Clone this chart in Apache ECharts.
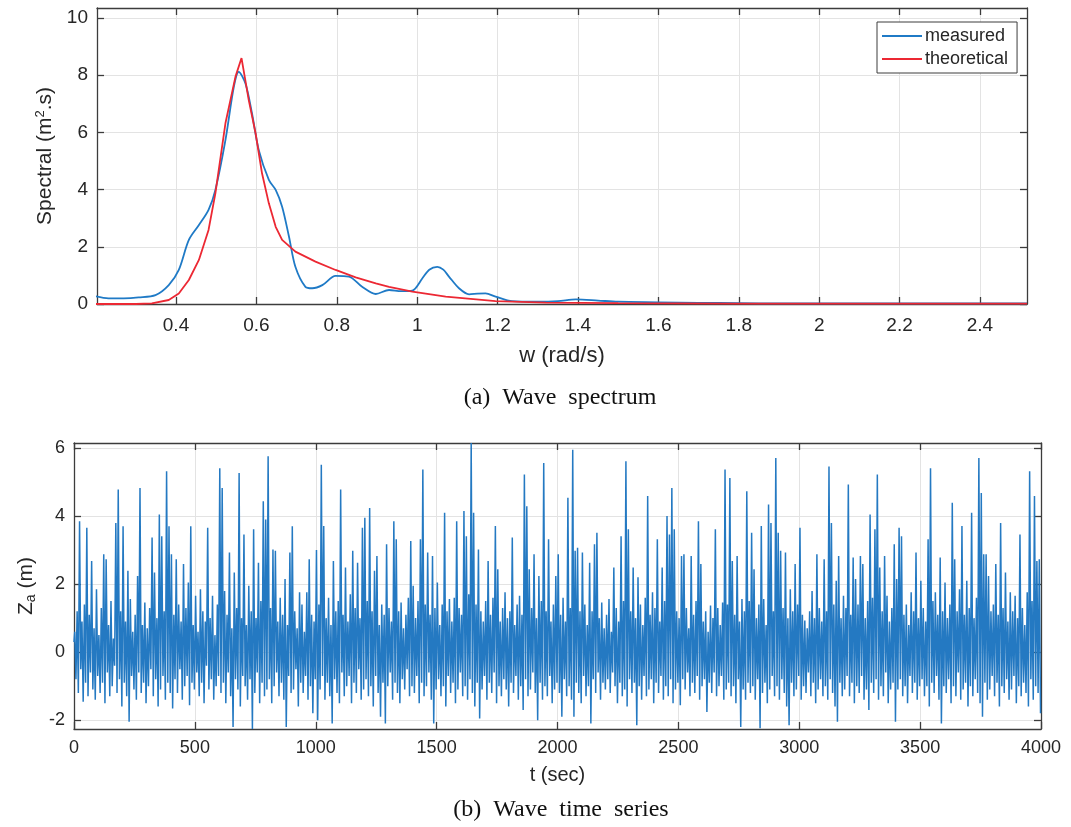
<!DOCTYPE html>
<html><head><meta charset="utf-8">
<script src="https://cdn.jsdelivr.net/npm/echarts@6/dist/echarts.min.js"></script>
<style>html,body{margin:0;padding:0;background:#fff}#c{width:1071px;height:827px}</style>
</head><body><div id="c"></div>
<script>
// ---- (a) Wave spectrum ----
const wMeasured = [0.2,0.232,0.27,0.307,0.349,0.382,0.407,0.432,0.457,0.481,0.498,0.523,0.544,0.556,0.573,0.589,0.606,0.631,0.648,0.664,0.681,0.697,0.722,0.739,0.764,0.797,0.83,0.863,0.897,0.93,0.96,0.988,1.013,1.03,1.05,1.065,1.079,1.104,1.129,1.15,1.17,1.195,1.236,1.3,1.35,1.395,1.45,1.5,1.6,1.7,1.8,1.9,2.0,2.2,2.4,2.517];
const sMeasured = [0.27,0.2,0.2,0.23,0.31,0.66,1.19,2.24,2.76,3.29,3.99,5.73,7.6,8.12,7.7,6.67,5.38,4.34,3.99,3.4,2.36,1.3,0.6,0.55,0.66,0.98,0.96,0.6,0.35,0.49,0.45,0.47,0.9,1.2,1.3,1.2,0.96,0.55,0.34,0.36,0.37,0.26,0.1,0.08,0.1,0.16,0.12,0.08,0.06,0.04,0.03,0.02,0.02,0.02,0.02,0.02];
const wTheory = [0.2,0.3,0.34,0.382,0.407,0.432,0.457,0.481,0.498,0.523,0.548,0.563,0.581,0.598,0.614,0.631,0.648,0.664,0.697,0.747,0.797,0.847,0.897,0.93,0.988,1.071,1.195,1.32,1.5,1.8,2.1,2.517];
const sTheory = [0,0,0.02,0.14,0.37,0.84,1.54,2.59,3.87,6.32,7.95,8.6,7.13,5.97,4.57,3.52,2.7,2.24,1.83,1.48,1.19,0.93,0.72,0.6,0.43,0.26,0.1,0.05,0.03,0.015,0.01,0.01];
const seriesNames = ['measured','theoretical'];

// ---- (b) Wave time series: crest / trough elevations (m), one per 10 s wave slot ----
const slotSec = 10;
const zCrest = [
0.6,1.2,3.85,0.9,1.4,3.66,1.1,2.68,0.7,1.85,
0.5,1.3,2.88,2.73,0.8,1.5,0.4,3.8,4.78,1.2,
3.7,0.9,2.39,1.56,0.6,1.1,2.24,4.83,0.8,1.46,
0.7,1.3,3.37,2.34,1.0,4.05,3.41,1.2,5.32,3.7,
2.88,1.1,2.73,1.4,0.9,2.59,1.3,2.05,3.7,0.8,
1.66,0.6,1.85,1.2,0.9,3.66,1.0,1.66,0.5,1.4,
5.41,4.83,1.8,1.1,2.93,0.7,2.34,1.3,5.27,1.0,
3.46,0.8,1.95,1.2,3.61,1.0,2.63,1.5,4.44,3.9,
5.76,1.3,3.02,2.98,0.9,1.6,1.1,2.15,0.8,2.93,
3.7,1.2,0.7,1.76,1.4,0.6,1.76,2.73,1.1,0.9,
3.0,1.4,5.51,3.71,1.0,1.6,0.8,2.68,1.2,1.5,
4.78,1.1,2.49,0.9,1.7,2.98,1.3,2.63,1.0,3.66,
3.95,1.5,4.24,1.2,2.39,2.83,0.8,1.4,1.1,3.17,
1.3,0.9,3.85,3.32,1.2,1.46,0.7,1.1,1.6,3.27,
1.95,1.0,1.5,3.32,5.37,1.4,2.93,1.1,2.83,1.3,
2.05,0.8,1.4,4.1,1.2,1.56,0.9,1.6,3.85,1.3,
1.1,4.15,3.41,1.7,6.15,4.1,1.4,3.02,1.2,0.9,
1.5,2.68,1.1,1.6,3.71,2.44,0.9,1.3,1.76,1.0,
1.2,3.37,0.8,1.4,1.66,1.1,5.22,4.29,2.44,1.3,
2.88,1.0,2.24,1.5,5.56,1.2,3.32,0.9,1.4,2.24,
2.88,1.1,1.6,0.9,4.54,1.3,5.95,2.98,3.07,1.2,
2.93,1.4,0.8,2.63,1.2,3.17,3.51,1.0,1.46,0.7,
1.1,1.56,0.6,2.49,1.3,0.9,3.41,1.5,5.61,3.61,
1.2,2.49,1.0,2.2,1.4,0.8,1.6,4.59,1.1,1.76,
1.3,3.32,0.9,2.49,1.5,4.0,3.46,4.83,3.61,1.2,
1.0,2.83,2.88,1.3,0.7,2.83,1.1,1.5,3.85,2.59,
0.9,1.2,0.6,1.37,1.0,3.61,1.3,0.8,1.46,5.37,
1.4,5.12,2.68,1.1,2.83,0.9,1.56,1.2,4.73,1.5,
3.51,2.44,1.0,1.4,3.71,1.56,0.8,4.34,3.8,1.2,
5.71,3.51,2.98,1.3,2.93,1.0,1.85,1.2,2.59,1.4,
3.66,1.1,0.93,0.7,1.2,1.8,1.0,2.88,1.3,0.9,
2.73,1.2,5.46,3.8,1.4,2.1,2.83,1.0,1.66,1.3,
4.93,1.1,2.78,2.15,1.4,2.83,2.59,1.0,1.5,4.05,
1.6,3.61,5.22,2.49,1.2,2.83,1.66,0.9,1.3,3.17,
2.15,3.66,3.41,1.1,1.4,0.8,1.76,1.2,2.93,1.0,
2.1,1.3,0.9,3.32,5.41,1.5,1.76,1.1,2.78,1.2,
2.05,1.0,1.4,4.39,2.73,1.2,1.85,3.71,1.1,2.1,
1.3,4.1,1.0,1.6,5.71,4.68,2.88,2.88,2.24,1.2,
1.4,2.59,1.1,3.8,1.3,2.34,0.9,1.76,1.2,1.66,
1.0,3.46,1.3,0.8,1.76,5.32,1.5,4.59,2.68,2.73];
const zTrough = [
-0.8,-1.2,-0.5,-1.46,-0.9,-1.3,-0.6,-1.1,-1.4,-0.7,
-1.2,-0.9,-1.5,-0.6,-1.3,-1.0,-0.4,-1.2,-0.8,-1.6,
-0.9,-1.3,-2.05,-0.7,-1.1,-1.4,-0.6,-1.2,-0.9,-1.5,
-1.0,-0.5,-1.3,-0.8,-1.6,-1.1,-0.7,-1.4,-0.9,-1.2,
-1.66,-0.8,-1.2,-0.5,-1.4,-1.0,-0.7,-1.56,-0.9,-1.1,
-0.6,-1.3,-0.9,-1.5,-0.4,-1.1,-0.8,-1.4,-1.0,-0.7,
-1.2,-0.9,-1.5,-0.6,-1.3,-2.2,-0.8,-1.1,-1.6,-0.7,
-1.0,-1.4,-0.8,-2.26,-1.2,-0.6,-1.5,-0.9,-1.3,-1.1,
-0.8,-1.5,-1.0,-0.6,-1.3,-0.9,-1.4,-2.2,-0.7,-1.2,
-1.1,-0.5,-1.6,-0.9,-1.2,-0.7,-1.4,-1.0,-1.8,-0.8,
-2.0,-1.1,-0.7,-1.4,-0.9,-1.3,-2.1,-0.8,-1.2,-1.5,
-0.6,-1.3,-1.0,-0.7,-1.5,-0.9,-1.2,-0.5,-1.4,-1.1,
-0.8,-1.3,-1.0,-1.6,-0.7,-1.2,-1.9,-0.9,-2.1,-1.0,
-0.6,-1.4,-0.9,-1.2,-1.5,-0.8,-1.1,-0.5,-1.3,-1.0,
-1.2,-0.7,-1.5,-0.9,-1.3,-1.0,-0.6,-1.4,-2.1,-1.1,
-0.8,-1.3,-1.0,-1.6,-0.7,-1.2,-0.9,-1.5,-1.1,-0.6,
-1.3,-1.0,-1.4,-0.8,-1.2,-1.6,-0.9,-1.95,-1.1,-0.7,
-1.4,-0.9,-1.2,-0.6,-1.5,-1.0,-1.3,-0.8,-1.1,-1.6,
-0.9,-1.2,-0.7,-1.4,-1.0,-1.7,-0.8,-1.3,-1.1,-0.6,
-1.2,-2.0,-0.9,-1.4,-1.0,-1.3,-0.7,-1.5,-1.1,-0.9,
-1.2,-1.9,-0.8,-1.3,-1.0,-1.4,-1.9,-0.9,-1.2,-1.5,
-0.7,-1.3,-1.0,-2.1,-0.8,-1.2,-0.6,-1.4,-0.9,-1.1,
-0.8,-1.2,-0.6,-1.0,-1.5,-0.9,-1.3,-1.1,-1.6,-0.8,
-1.2,-0.9,-2.15,-1.0,-1.4,-0.7,-1.3,-1.1,-0.8,-1.5,
-0.9,-1.2,-0.7,-1.4,-1.0,-1.3,-0.8,-1.5,-1.1,-0.9,
-1.56,-0.8,-1.1,-0.6,-1.3,-0.9,-1.2,-0.7,-1.4,-1.0,
-0.8,-1.76,-0.9,-1.2,-0.6,-1.3,-1.0,-0.7,-1.4,-1.1,
-0.9,-1.3,-1.0,-1.5,-0.8,-2.2,-1.1,-1.4,-0.9,-1.2,
-1.0,-1.4,-0.8,-2.24,-1.2,-0.9,-1.5,-1.1,-0.7,-1.3,
-1.0,-1.4,-0.8,-1.2,-1.6,-2.15,-0.9,-1.3,-1.1,-0.7,
-1.4,-1.0,-1.2,-0.6,-1.3,-0.9,-1.5,-1.1,-0.8,-1.3,
-1.0,-1.4,-0.8,-1.2,-1.6,-2.05,-0.9,-1.3,-1.1,-0.7,
-1.3,-0.9,-1.5,-1.0,-1.2,-0.7,-1.4,-1.1,-1.7,-0.9,
-1.2,-0.8,-1.4,-1.0,-1.3,-0.6,-1.5,-1.1,-0.9,-2.05,
-1.1,-0.8,-1.3,-1.0,-1.5,-0.7,-1.2,-0.9,-1.4,-1.0,
-0.8,-1.3,-1.0,-1.6,-0.9,-1.2,-0.7,-1.4,-2.1,-1.0,
-1.2,-0.8,-1.5,-1.0,-1.3,-0.6,-1.4,-1.1,-0.9,-1.6,
-1.0,-1.3,-0.8,-1.2,-1.5,-1.9,-0.9,-1.4,-1.1,-0.7,
-1.3,-0.9,-1.6,-1.0,-1.2,-0.8,-1.4,-1.1,-0.7,-1.5,
-1.0,-1.3,-0.9,-1.2,-1.6,-0.8,-1.4,-1.0,-1.2,-1.8];

// axis ranges and tick values
const wRange = [0.2035, 2.517], sRange = [0, 10.35];
const tRange = [0, 4000], zRange = [-2.26, 6.15];
const wTicks = [0.4,0.6,0.8,1,1.2,1.4,1.6,1.8,2,2.2,2.4];
const sTicks = [0,2,4,6,8,10];
const tTicks = [0,500,1000,1500,2000,2500,3000,3500,4000];
const zTicks = [-2,0,2,4,6];

// ---- build data ----
const measData = wMeasured.map((w,i)=>[w, sMeasured[i]]);
const theoData = wTheory.map((w,i)=>[w, sTheory[i]]);
const tsData = [[0, 0.3]];
zCrest.forEach((c,i)=>{
  tsData.push([i*slotSec + 3, c]);
  tsData.push([i*slotSec + 8, zTrough[i]]);
});

const AX = '#3c3c3c', GRID = '#e3e3e3', TXT = '#262626';
const sans = 'Liberation Sans, Arial, sans-serif';
const plain = v => String(v);

function axis(o, ticks, mirror, labelOpt) {
  const a = {
    type: 'value', scale: true,
    axisLine: {show: true, onZero: false, lineStyle: {color: AX, width: 1.3}},
    axisTick: {show: true, inside: true, length: 7, customValues: ticks, lineStyle: {color: AX, width: 1.3}},
    splitLine: {show: !mirror, lineStyle: {color: GRID, width: 1}},
    axisLabel: mirror ? {show: false} : Object.assign({customValues: ticks, formatter: plain, color: TXT, fontFamily: sans, fontSize: 19, margin: 9}, labelOpt || {}),
  };
  return Object.assign(a, o);
}

const chart = echarts.init(document.getElementById('c'), null, {renderer: 'canvas'});
chart.setOption({
  animation: false,
  backgroundColor: '#fff',
  grid: [
    {left: 97, right: 44, top: 8, height: 296},
    {left: 74, right: 30, top: 443, height: 286}
  ],
  legend: {
    data: seriesNames, orient: 'vertical', left: 877, top: 22,
    backgroundColor: '#fff', borderColor: '#3c3c3c', borderWidth: 1,
    padding: [5, 9, 5, 5], itemGap: 5, itemWidth: 40, itemHeight: 2, icon: 'rect',
    textStyle: {fontFamily: sans, fontSize: 18, color: TXT, lineHeight: 18, padding: [0,0,0,-2]}
  },
  xAxis: [
    axis({gridIndex: 0, min: wRange[0], max: wRange[1],
      name: 'w (rad/s)', nameLocation: 'middle', nameGap: 41,
      nameTextStyle: {fontFamily: sans, fontSize: 22, color: TXT}}, wTicks, false, {margin: 12}),
    axis({gridIndex: 0, position: 'top', min: wRange[0], max: wRange[1]}, wTicks, true),
    axis({gridIndex: 1, min: tRange[0], max: tRange[1],
      name: 't (sec)', nameLocation: 'middle', nameGap: 36,
      nameTextStyle: {fontFamily: sans, fontSize: 20, color: TXT}}, tTicks, false, {fontSize: 18, margin: 10}),
    axis({gridIndex: 1, position: 'top', min: tRange[0], max: tRange[1]}, tTicks, true)
  ],
  yAxis: [
    axis({gridIndex: 0, min: sRange[0], max: sRange[1],
      name: '{n|Spectral (m}{s|2}{n|.s)}', nameLocation: 'middle', nameGap: 34,
      nameTextStyle: {rich: {n: {fontFamily: sans, fontSize: 21, color: TXT}, s: {fontFamily: sans, fontSize: 13, color: TXT, verticalAlign: 'top', padding: [0,0,10,0]}}}}, sTicks, false),
    axis({gridIndex: 0, position: 'right', min: sRange[0], max: sRange[1]}, sTicks, true),
    axis({gridIndex: 1, min: zRange[0], max: zRange[1],
      name: '{n|Z}{s|a}{n| (m)}', nameLocation: 'middle', nameGap: 30,
      nameTextStyle: {rich: {n: {fontFamily: sans, fontSize: 21, color: TXT}, s: {fontFamily: sans, fontSize: 14, color: TXT, padding: [10,0,0,0]}}}}, zTicks, false, {fontSize: 18}),
    axis({gridIndex: 1, position: 'right', min: zRange[0], max: zRange[1]}, zTicks, true)
  ],
  series: [
    {name: seriesNames[0], type: 'line', xAxisIndex: 0, yAxisIndex: 0, data: measData,
     showSymbol: false, smooth: 0.3, lineStyle: {color: '#1f7ac6', width: 1.8}, itemStyle: {color: '#1f7ac6'}, z: 3},
    {name: seriesNames[1], type: 'line', xAxisIndex: 0, yAxisIndex: 0, data: theoData,
     showSymbol: false, lineStyle: {color: '#ec2833', width: 1.8}, itemStyle: {color: '#ec2833'}, z: 4},
    {name: 'Za', type: 'line', xAxisIndex: 2, yAxisIndex: 2, data: tsData,
     showSymbol: false, lineStyle: {color: '#2479c2', width: 1.5}, itemStyle: {color: '#2479c2'}}
  ],
  graphic: [
    {type: 'text', x: 560, y: 398, style: {text: '(a)  Wave  spectrum', textAlign: 'center', textVerticalAlign: 'middle', font: '24px "Liberation Serif", "Times New Roman", serif', fill: '#111'}},
    {type: 'text', x: 561, y: 810, style: {text: '(b)  Wave  time  series', textAlign: 'center', textVerticalAlign: 'middle', font: '24px "Liberation Serif", "Times New Roman", serif', fill: '#111'}}
  ]
});
</script>
</body></html>
